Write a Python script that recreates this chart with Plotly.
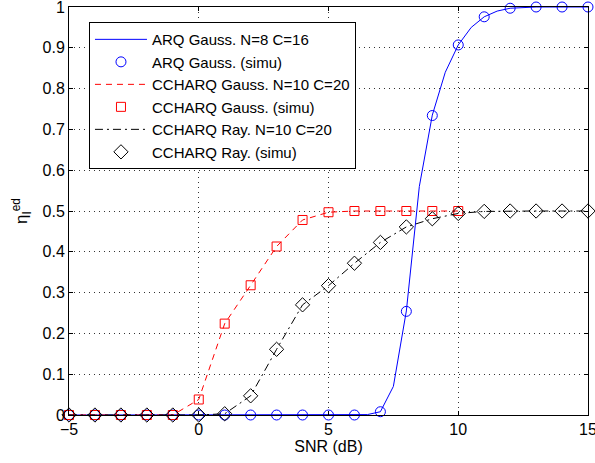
import plotly.graph_objects as go

# ARQ Gaussian analytic curve (0.5 dB step)
arq_x = [-5, -4.5, -4, -3.5, -3, -2.5, -2, -1.5, -1, -0.5, 0, 0.5, 1, 1.5, 2, 2.5, 3, 3.5, 4, 4.5, 5, 5.5, 6, 6.5,
         7, 7.5, 8, 8.5, 9, 9.5, 10, 10.5, 11, 11.5, 12, 12.5, 13, 13.5, 14, 14.5, 15]
arq_y = [0, 0, 0, 0, 0, 0, 0, 0, 0, 0, 0, 0, 0, 0, 0, 0, 0, 0, 0, 0, 0, 0, 0, 0.001,
         0.008, 0.07, 0.255, 0.56, 0.735, 0.84, 0.907, 0.95, 0.976, 0.99, 0.997, 0.999, 1, 1, 1, 1, 1]

# ARQ simulation
arq_sim_x = [-5, -4, -3, -2, -1, 0, 1, 2, 3, 4, 5, 6, 7, 8, 9, 10, 11, 12, 13, 14, 15]
arq_sim_y = [0, 0, 0, 0, 0, 0, 0, 0, 0, 0, 0, 0, 0.008, 0.254, 0.734, 0.907, 0.976, 0.997, 1, 1, 1]

# CCHARQ Gaussian
cg_x = [-5, -4, -3, -2, -1, 0, 1, 2, 3, 4, 5, 6, 7, 8, 9, 10]
cg_y = [0, 0, 0, 0, 0, 0.038, 0.224, 0.318, 0.413, 0.478, 0.497, 0.5, 0.5, 0.5, 0.5, 0.5]
cg_sim_y = [0, 0, 0, 0, 0, 0.038, 0.224, 0.318, 0.413, 0.478, 0.497, 0.5, 0.5, 0.5, 0.5, 0.5]

# CCHARQ Rayleigh
cr_x = [-5, -4, -3, -2, -1, 0, 1, 2, 3, 4, 5, 6, 7, 8, 9, 10, 11, 12, 13, 14, 15]
cr_y = [0, 0, 0, 0, 0, 0, 0.003, 0.047, 0.161, 0.27, 0.317, 0.372, 0.423, 0.461, 0.481, 0.494, 0.499, 0.5, 0.5, 0.5, 0.5]
cr_sim_y = [0, 0, 0, 0, 0, 0, 0.003, 0.047, 0.161, 0.27, 0.317, 0.372, 0.423, 0.461, 0.481, 0.494, 0.499, 0.5, 0.5, 0.5, 0.5]

names = ["ARQ Gauss. N=8 C=16", "ARQ Gauss. (simu)",
         "CCHARQ Gauss. N=10 C=20", "CCHARQ Gauss. (simu)",
         "CCHARQ Ray. N=10 C=20", "CCHARQ Ray. (simu)"]

x_ticks = [-5, 0, 5, 10, 15]
x_tick_text = ["\u22125", "0", "5", "10", "15"]
y_ticks = [0, 0.1, 0.2, 0.3, 0.4, 0.5, 0.6, 0.7, 0.8, 0.9, 1]
y_tick_text = ["0", "0.1", "0.2", "0.3", "0.4", "0.5", "0.6", "0.7", "0.8", "0.9", "1"]

blue = "#0000ff"
red = "#ff0000"
black = "#000000"

fig = go.Figure()
fig.add_trace(go.Scatter(x=arq_x, y=arq_y, mode="lines", name=names[0],
                         line=dict(color=blue, width=1), cliponaxis=False))
fig.add_trace(go.Scatter(x=arq_sim_x, y=arq_sim_y, mode="markers", name=names[1],
                         marker=dict(symbol="circle-open", color=blue, size=10, line=dict(width=1)),
                         cliponaxis=False))
fig.add_trace(go.Scatter(x=cg_x, y=cg_y, mode="lines", name=names[2],
                         line=dict(color=red, width=1, dash="6px,5px"), cliponaxis=False))
fig.add_trace(go.Scatter(x=cg_x, y=cg_sim_y, mode="markers", name=names[3],
                         marker=dict(symbol="square-open", color=red, size=9, line=dict(width=1)),
                         cliponaxis=False))
fig.add_trace(go.Scatter(x=cr_x, y=cr_y, mode="lines", name=names[4],
                         line=dict(color=black, width=1, dash="8px,4px,2px,4px"), cliponaxis=False))
fig.add_trace(go.Scatter(x=cr_x, y=cr_sim_y, mode="markers", name=names[5],
                         marker=dict(symbol="diamond-open", color=black, size=11, line=dict(width=1)),
                         cliponaxis=False))

axis_common = dict(
    showline=True, linecolor="black", linewidth=1, mirror="ticks",
    ticks="inside", ticklen=4, tickcolor="black",
    showgrid=True, gridcolor="#333333", griddash="1px,4px", gridwidth=1,
    zeroline=False, tickfont=dict(size=16, color="black"),
    ticklabeloverflow="allow", automargin=False,
)

fig.update_xaxes(range=[-5.0001, 15.0001], tickvals=x_ticks, ticktext=x_tick_text,
                 title=dict(text="SNR (dB)", font=dict(size=16, color="black"), standoff=2),
                 **axis_common)
fig.update_yaxes(range=[-0.00001, 1.00001], tickvals=y_ticks, ticktext=y_tick_text,
                 title=dict(text="\u03b7<sub>I</sub><sup>ed</sup>", font=dict(size=17, color="black"), standoff=10),
                 **axis_common)

fig.update_layout(
    width=595, height=463,
    margin=dict(l=69, r=7, t=7, b=48),
    paper_bgcolor="white", plot_bgcolor="white",
    font=dict(family="Liberation Sans, Arial, sans-serif", size=16, color="black"),
    legend=dict(x=0.0385, y=0.963, xanchor="left", yanchor="top",
                bgcolor="white", bordercolor="black", borderwidth=1,
                font=dict(size=15), tracegroupgap=0, itemwidth=52),
    showlegend=True,
)

fig.write_html("out.html", config={"displayModeBar": False},
               post_script="document.body.style.margin='0';document.body.style.overflow='hidden';")
